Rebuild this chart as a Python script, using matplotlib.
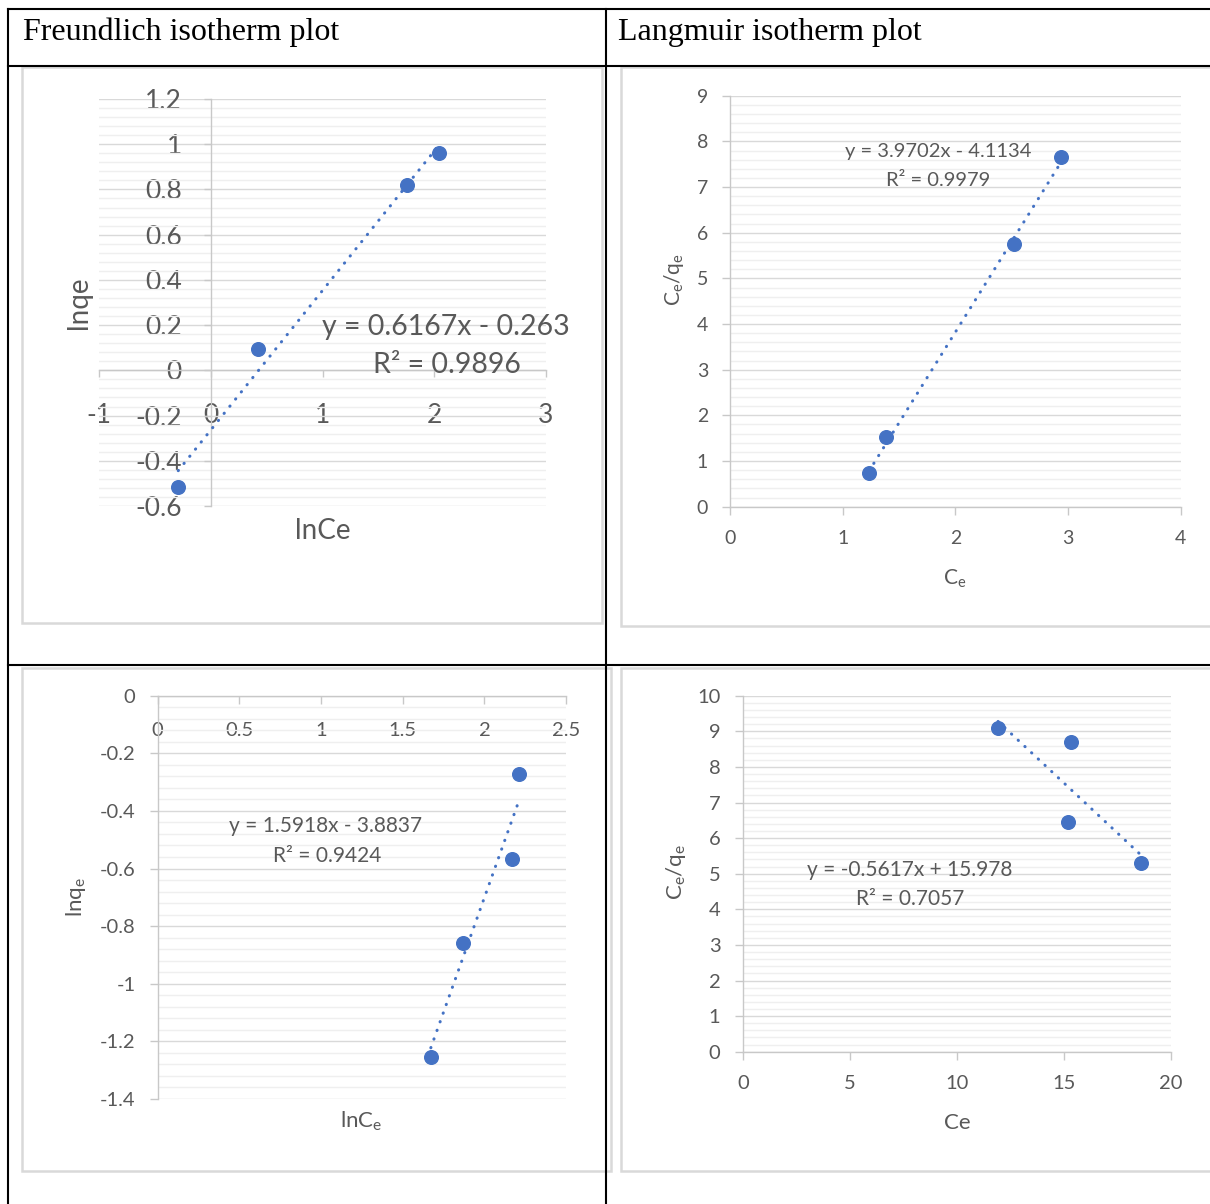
import numpy as np
import matplotlib
matplotlib.use("Agg")
import matplotlib.pyplot as plt
import matplotlib.transforms as mtransforms
from matplotlib.lines import Line2D
from matplotlib.patches import Rectangle
from matplotlib.ticker import MultipleLocator

plt.rcParams['font.family'] = ['Lato', 'DejaVu Sans']
plt.rcParams['mathtext.fontset'] = 'custom'
plt.rcParams['mathtext.rm'] = 'Lato'
plt.rcParams['mathtext.it'] = 'Lato:italic'
plt.rcParams['mathtext.bf'] = 'Lato:bold'

# ---- data ----
# Freundlich, first run
fr1_lnce = [-0.293, 0.418, 1.752, 2.041]
fr1_lnqe = [-0.516, 0.095, 0.820, 0.963]
fr1_slope, fr1_icept, fr1_r2 = 0.6167, -0.263, 0.9896
fr1_xticks = [-1, 0, 1, 2, 3]
fr1_yticks = [-0.6, -0.4, -0.2, 0, 0.2, 0.4, 0.6, 0.8, 1, 1.2]

# Langmuir, first run
la1_ce = [1.232, 1.384, 2.523, 2.935]
la1_ceqe = [0.731, 1.519, 5.752, 7.657]
la1_slope, la1_icept, la1_r2 = 3.9702, -4.1134, 0.9979
la1_xticks = [0, 1, 2, 3, 4]
la1_yticks = [0, 1, 2, 3, 4, 5, 6, 7, 8, 9]

# Freundlich, second run
fr2_lnce = [1.672, 1.868, 2.169, 2.211]
fr2_lnqe = [-1.255, -0.857, -0.568, -0.273]
fr2_slope, fr2_icept, fr2_r2 = 1.5918, -3.8837, 0.9424
fr2_xticks = [0, 0.5, 1, 1.5, 2, 2.5]
fr2_yticks = [-1.4, -1.2, -1, -0.8, -0.6, -0.4, -0.2, 0]

# Langmuir, second run
la2_ce = [11.93, 15.36, 15.19, 18.61]
la2_ceqe = [9.10, 8.71, 6.46, 5.31]
la2_slope, la2_icept, la2_r2 = -0.5617, 15.978, 0.7057
la2_xticks = [0, 5, 10, 15, 20]
la2_yticks = [0, 1, 2, 3, 4, 5, 6, 7, 8, 9, 10]

headers = ["Freundlich isotherm plot", "Langmuir isotherm plot"]

W, H = 1210, 1204
BLUE = '#4472c4'
TEXT = '#595959'
AXIS = '#c8c8c8'
GRID_MAJOR = '#d9d9d9'
GRID_MINOR = '#efefef'

fig = plt.figure(figsize=(W / 100, H / 100), dpi=100)
fig.patch.set_facecolor('white')
# pixel coordinates, origin top-left
px = mtransforms.Affine2D().scale(1 / W, -1 / H).translate(0, 1) + fig.transFigure


def add_ax(left, top, right, bottom):
    return fig.add_axes([left / W, 1 - bottom / H, (right - left) / W, (bottom - top) / H])


def fmt(v):
    s = f"{round(v, 6):g}"
    return "0" if s == "-0" else s


def eq_text(m, b):
    sign = '-' if b < 0 else '+'
    return f"y = {m}x {sign} {abs(b)}"


def style(ax, xlim, ylim, xticks, yticks, minor, fs, xpad, ypad, tlen, zero_spines=False):
    ax.set_facecolor('none')
    ax.set_xlim(*xlim)
    ax.set_ylim(*ylim)
    for s in ('top', 'right'):
        ax.spines[s].set_visible(False)
    for s in ('left', 'bottom'):
        ax.spines[s].set_color(AXIS)
        ax.spines[s].set_linewidth(1.0)
    if zero_spines:
        ax.spines['left'].set_position(('data', 0))
        ax.spines['bottom'].set_position(('data', 0))
    ax.set_xticks(xticks)
    ax.set_xticklabels([fmt(v) for v in xticks])
    ax.set_yticks(yticks)
    ax.set_yticklabels([fmt(v) for v in yticks])
    ax.yaxis.set_minor_locator(MultipleLocator(minor))
    ax.yaxis.grid(True, which='major', color=GRID_MAJOR, lw=1.0)
    ax.yaxis.grid(True, which='minor', color=GRID_MINOR, lw=1.0)
    ax.set_axisbelow(True)
    ax.tick_params(which='minor', length=0)
    ax.tick_params(axis='x', which='major', direction='out', length=tlen, width=1.0,
                   color=AXIS, labelsize=fs, labelcolor=TEXT, pad=xpad)
    ax.tick_params(axis='y', which='major', direction='out', length=tlen, width=1.0,
                   color=AXIS, labelsize=fs, labelcolor=TEXT, pad=ypad)


def draw_series(ax, x, y, m, b):
    xs = np.array([min(x), max(x)])
    ax.plot(xs, m * xs + b, color=BLUE, lw=2.2, linestyle=(0, (0.1, 2.9)),
            dash_capstyle='round', zorder=3)
    ax.plot(x, y, 'o', ms=9.8, color=BLUE, mec=BLUE, zorder=4, clip_on=False)


def label(x, y, s, fs, **kw):
    fig.text(x, y, s, transform=px, fontsize=fs, color=TEXT, **kw)


# chart frames
frames = [(22, 67, 602, 623), (621, 67, 1214, 626),
          (22, 668, 611, 1171), (621, 668, 1214, 1171)]
for x0, y0, x1, y1 in frames:
    fig.add_artist(Rectangle((x0, y0), x1 - x0, y1 - y0, transform=px, facecolor='white',
                             edgecolor='#d9d9d9', lw=1.8, zorder=-5))

# ---- Freundlich (top left) ----
ax1 = add_ax(99.3, 99, 546, 506)
style(ax1, (-1, 3), (-0.6, 1.2), fr1_xticks, fr1_yticks, 0.04, 19, 18.5, 16, 5, zero_spines=True)
draw_series(ax1, fr1_lnce, fr1_lnqe, fr1_slope, fr1_icept)
label(79, 303, "lnqe", 20, rotation=90, ha='center', va='center')
label(322.7, 539, "lnCe", 20, ha='center', va='baseline')
label(445.5, 335, eq_text(fr1_slope, fr1_icept), 20.5, ha='center', va='baseline')
label(446.5, 373, f"R² = {fr1_r2}", 20.5, ha='center', va='baseline')

# ---- Langmuir (top right) ----
ax2 = add_ax(730.1, 95.7, 1180.9, 506.7)
style(ax2, (0, 4), (0, 9), la1_xticks, la1_yticks, 0.2, 14, 11, 10, 5.8)
draw_series(ax2, la1_ce, la1_ceqe, la1_slope, la1_icept)
label(674.5, 280, r"C$_\mathrm{e}$/q$_\mathrm{e}$", 15, rotation=90, ha='center', va='center')
label(955, 585, r"C$_\mathrm{e}$", 15, ha='center', va='baseline')
label(938.5, 157.3, eq_text(la1_slope, la1_icept), 14.5, ha='center', va='baseline')
label(938, 186, f"R² = {la1_r2}", 14.5, ha='center', va='baseline')

# ---- Freundlich (bottom left) ----
ax3 = add_ax(157.5, 695.7, 566.2, 1099)
style(ax3, (0, 2.5), (-1.4, 0), fr2_xticks, fr2_yticks, 0.04, 14.5, 13, 10, 5.8)
ax3.spines['bottom'].set_position(('data', 0))
draw_series(ax3, fr2_lnce, fr2_lnqe, fr2_slope, fr2_icept)
label(76, 897, r"lnq$_\mathrm{e}$", 16, rotation=90, ha='center', va='center')
label(361.5, 1128, r"lnC$_\mathrm{e}$", 16, ha='center', va='baseline')
label(325.7, 831.7, eq_text(fr2_slope, fr2_icept), 15, ha='center', va='baseline')
label(327, 861.7, f"R² = {fr2_r2}", 15, ha='center', va='baseline')

# ---- Langmuir (bottom right) ----
ax4 = add_ax(742.9, 695.7, 1170.7, 1051.7)
style(ax4, (0, 20), (0, 10), la2_xticks, la2_yticks, 0.2, 14.5, 11, 10.4, 5.8)
draw_series(ax4, la2_ce, la2_ceqe, la2_slope, la2_icept)
label(675.5, 872, r"C$_\mathrm{e}$/q$_\mathrm{e}$", 16, rotation=90, ha='center', va='center')
label(957, 1129, "Ce", 16, ha='center', va='baseline')
label(909.7, 876, eq_text(la2_slope, la2_icept), 15, ha='center', va='baseline')
label(910, 905.3, f"R² = {la2_r2}", 15, ha='center', va='baseline')

# ---- table rules and headers ----
def rule(xs, ys):
    fig.add_artist(Line2D(xs, ys, transform=px, color='black', lw=1.5,
                          solid_capstyle='projecting', zorder=10))

rule([8, 1212], [9, 9])
rule([8, 1212], [66, 66])
rule([8, 1212], [665, 665])
rule([8, 8], [9, 1206])
rule([606, 606], [9, 1206])

fig.text(23, 40, headers[0], transform=px, fontsize=23, family='Liberation Serif',
         color='black', va='baseline')
fig.text(618, 40, headers[1], transform=px, fontsize=23, family='Liberation Serif',
         color='black', va='baseline')

fig.savefig("out.png", dpi=100, facecolor='white')
